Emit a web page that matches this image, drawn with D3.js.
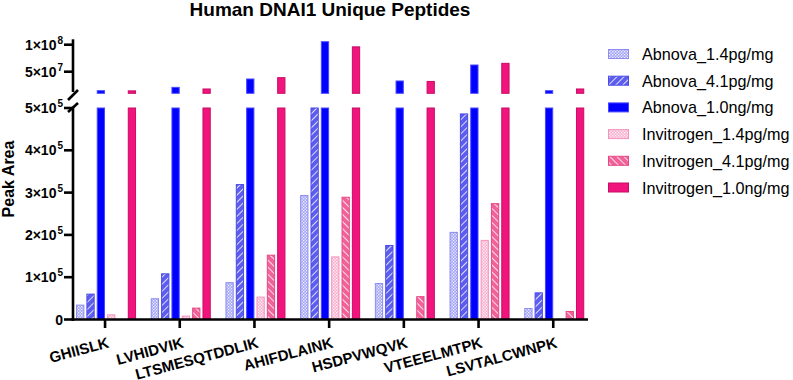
<!DOCTYPE html>
<html>
<head>
<meta charset="utf-8">
<script src="https://cdn.jsdelivr.net/npm/d3@7"></script>
<style>
  body { margin: 0; background: #fff; }
  svg { font-family: "Liberation Sans", Arial, sans-serif; }
</style>
</head>
<body>
<div id="chart"></div>
<script>
// Peptide-Kategorien
const peptides = ["GHIISLK", "LVHIDVIK", "LTSMESQTDDLIK", "AHIFDLAINK", "HSDPVWQVK", "VTEEELMTPK", "LSVTALCWNPK"];
const seriesNames = ["Abnova_1.4pg/mg", "Abnova_4.1pg/mg", "Abnova_1.0ng/mg", "Invitrogen_1.4pg/mg", "Invitrogen_4.1pg/mg", "Invitrogen_1.0ng/mg"];

// Werte pro Serie (Peak Area)
const abnova14 = [34000, 49000, 87000, 293000, 85000, 206000, 26000];
const abnova41 = [60000, 108000, 319000, 505000, 175000, 486000, 63000];
const abnova10 = [14800000, 21000000, 36500000, 105500000, 32800000, 62400000, 14800000];
const invit14 = [11000, 8000, 53000, 148000, 0, 187000, 0];
const invit41 = [0, 27000, 152000, 289000, 54000, 274000, 19000];
const invit10 = [14500000, 18000000, 39000000, 96000000, 32000000, 65500000, 18000000];
const allSeries = [abnova14, abnova41, abnova10, invit14, invit41, invit10];

// Achsen-Ticks
const lowerTicks = [0, 1e5, 2e5, 3e5, 4e5, 5e5];
const upperTicks = [5e7, 1e8];

const W = 793, H = 380;
const svg = d3.select("#chart").append("svg").attr("width", W).attr("height", H);

// Stil pro Serie
const styles = [
  {fill: "url(#dotsBlue)", stroke: "#8c8cf2"},
  {fill: "url(#hatchBlue)", stroke: "#4a4ae8"},
  {fill: "#0000ff", stroke: "#4848ff"},
  {fill: "url(#dotsPink)", stroke: "#f394bf"},
  {fill: "url(#hatchPink)", stroke: "#e64884"},
  {fill: "#f0147c", stroke: "#c80d66"}
];

const defs = svg.append("defs");
function dots(id, bg) {
  const p = defs.append("pattern").attr("id", id).attr("patternUnits", "userSpaceOnUse")
    .attr("width", 3).attr("height", 3);
  p.append("rect").attr("width", 3).attr("height", 3).attr("fill", bg);
  p.append("rect").attr("x", 0).attr("y", 0).attr("width", 1.3).attr("height", 1.3).attr("fill", "#fff").attr("opacity", 0.85);
  p.append("rect").attr("x", 1.5).attr("y", 1.5).attr("width", 1.3).attr("height", 1.3).attr("fill", "#fff").attr("opacity", 0.85);
}
function hatch(id, bg, dir) {
  const p = defs.append("pattern").attr("id", id).attr("patternUnits", "userSpaceOnUse")
    .attr("width", 5).attr("height", 5)
    .attr("patternTransform", `rotate(${dir > 0 ? 45 : -45})`);
  p.append("rect").attr("width", 5).attr("height", 5).attr("fill", bg);
  p.append("line").attr("x1", 0).attr("y1", 0).attr("x2", 0).attr("y2", 5)
    .attr("stroke", "#fff").attr("stroke-width", 1.6);
}
dots("dotsBlue", "#a3a3f7");
hatch("hatchBlue", "#5c5cee", 1);
dots("dotsPink", "#f9b0cf");
hatch("hatchPink", "#f2629a", -1);

// Skalen
const x = d3.scaleBand().domain(peptides).range([67.7, 590.6]);
const xInner = d3.scaleBand().domain(seriesNames).range([-29, 31]).paddingInner(0.2);
const yLow = d3.scaleLinear().domain([0, 5e5]).range([319.5, 108]);
const yUp = d3.scaleLinear().domain([1e7, 1.1e8]).range([93.3, 39.3]);

// Balken
allSeries.forEach((vals, s) => {
  const st = styles[s];
  const g = svg.append("g");
  vals.forEach((v, i) => {
    if (!v) return;
    const bx = x(peptides[i]) + x.bandwidth() / 2 + xInner(seriesNames[s]);
    const bw = xInner.bandwidth();
    const top = yLow(Math.min(v, 5e5));
    g.append("rect").attr("x", bx + 0.5).attr("y", top).attr("width", bw - 1)
      .attr("height", yLow(0) - top).attr("fill", st.fill)
      .attr("stroke", st.stroke).attr("stroke-width", 1);
    if (v > 1e7) {
      const t2 = yUp(v);
      g.append("rect").attr("x", bx + 0.5).attr("y", t2).attr("width", bw - 1)
        .attr("height", yUp(1e7) - t2).attr("fill", st.fill)
        .attr("stroke", st.stroke).attr("stroke-width", 1);
    }
  });
});

// Y-Achse (mit Bruch)
const axX = 73;
const ax = svg.append("g").attr("stroke", "#000").attr("stroke-width", 2.6).attr("fill", "none");
ax.append("line").attr("x1", axX).attr("x2", axX).attr("y1", 39.3).attr("y2", 92);
ax.append("line").attr("x1", axX).attr("x2", axX).attr("y1", 107).attr("y2", 321);
ax.append("line").attr("x1", 68).attr("y1", 100).attr("x2", 78).attr("y2", 90);
ax.append("line").attr("x1", 68).attr("y1", 112).attr("x2", 78).attr("y2", 103);

function sciLabel(g, v, yy) {
  if (v === 0) {
    g.append("text").attr("x", 63).attr("y", yy + 5).attr("text-anchor", "end")
      .attr("font-size", 14).attr("font-weight", "bold").text("0");
    return;
  }
  const e = Math.floor(Math.log10(v));
  const m = Math.round(v / Math.pow(10, e));
  const t = g.append("text").attr("x", 63).attr("y", yy + 5).attr("text-anchor", "end")
    .attr("font-weight", "bold").attr("font-size", 14);
  t.append("tspan").text(m + "×10");
  t.append("tspan").attr("font-size", 10).attr("dy", -6).attr("dx", 1).text(e);
}
const tl = svg.append("g");
lowerTicks.forEach(v => {
  tl.append("line").attr("x1", 64).attr("x2", axX).attr("y1", yLow(v)).attr("y2", yLow(v))
    .attr("stroke", "#000").attr("stroke-width", 2.6);
  sciLabel(tl, v, yLow(v));
});
upperTicks.forEach(v => {
  tl.append("line").attr("x1", 64).attr("x2", axX).attr("y1", yUp(v)).attr("y2", yUp(v))
    .attr("stroke", "#000").attr("stroke-width", 2.6);
  sciLabel(tl, v, yUp(v));
});

// X-Achse
svg.append("line").attr("x1", 71.7).attr("x2", 588).attr("y1", 319.5).attr("y2", 319.5)
  .attr("stroke", "#000").attr("stroke-width", 2.6);
peptides.forEach(p => {
  const cx = x(p) + x.bandwidth() / 2;
  svg.append("line").attr("x1", cx).attr("x2", cx).attr("y1", 319.5).attr("y2", 328)
    .attr("stroke", "#000").attr("stroke-width", 2.6);
  svg.append("text").attr("transform", `translate(${cx + 2},${337}) rotate(-15)`)
    .attr("text-anchor", "end").attr("font-size", 15).attr("font-weight", "bold")
    .attr("dy", "0.7em").text(p);
});

// Titel
svg.append("text").attr("x", 330).attr("y", 16).attr("text-anchor", "middle")
  .attr("font-size", 19).attr("font-weight", "bold").text("Human DNAI1 Unique Peptides");

// Y-Titel
svg.append("text").attr("transform", "translate(14,179) rotate(-90)")
  .attr("text-anchor", "middle").attr("font-size", 16).attr("font-weight", "bold").text("Peak Area");

// Legende
const leg = svg.append("g");
seriesNames.forEach((n, s) => {
  const cy = 54 + s * 26.7;
  leg.append("rect").attr("x", 608.5).attr("y", cy - 4.5).attr("width", 20).attr("height", 9)
    .attr("fill", styles[s].fill).attr("stroke", styles[s].stroke).attr("stroke-width", 1);
  leg.append("text").attr("x", 642).attr("y", cy + 6).attr("font-size", 16.2).text(n);
});
</script>
</body>
</html>
